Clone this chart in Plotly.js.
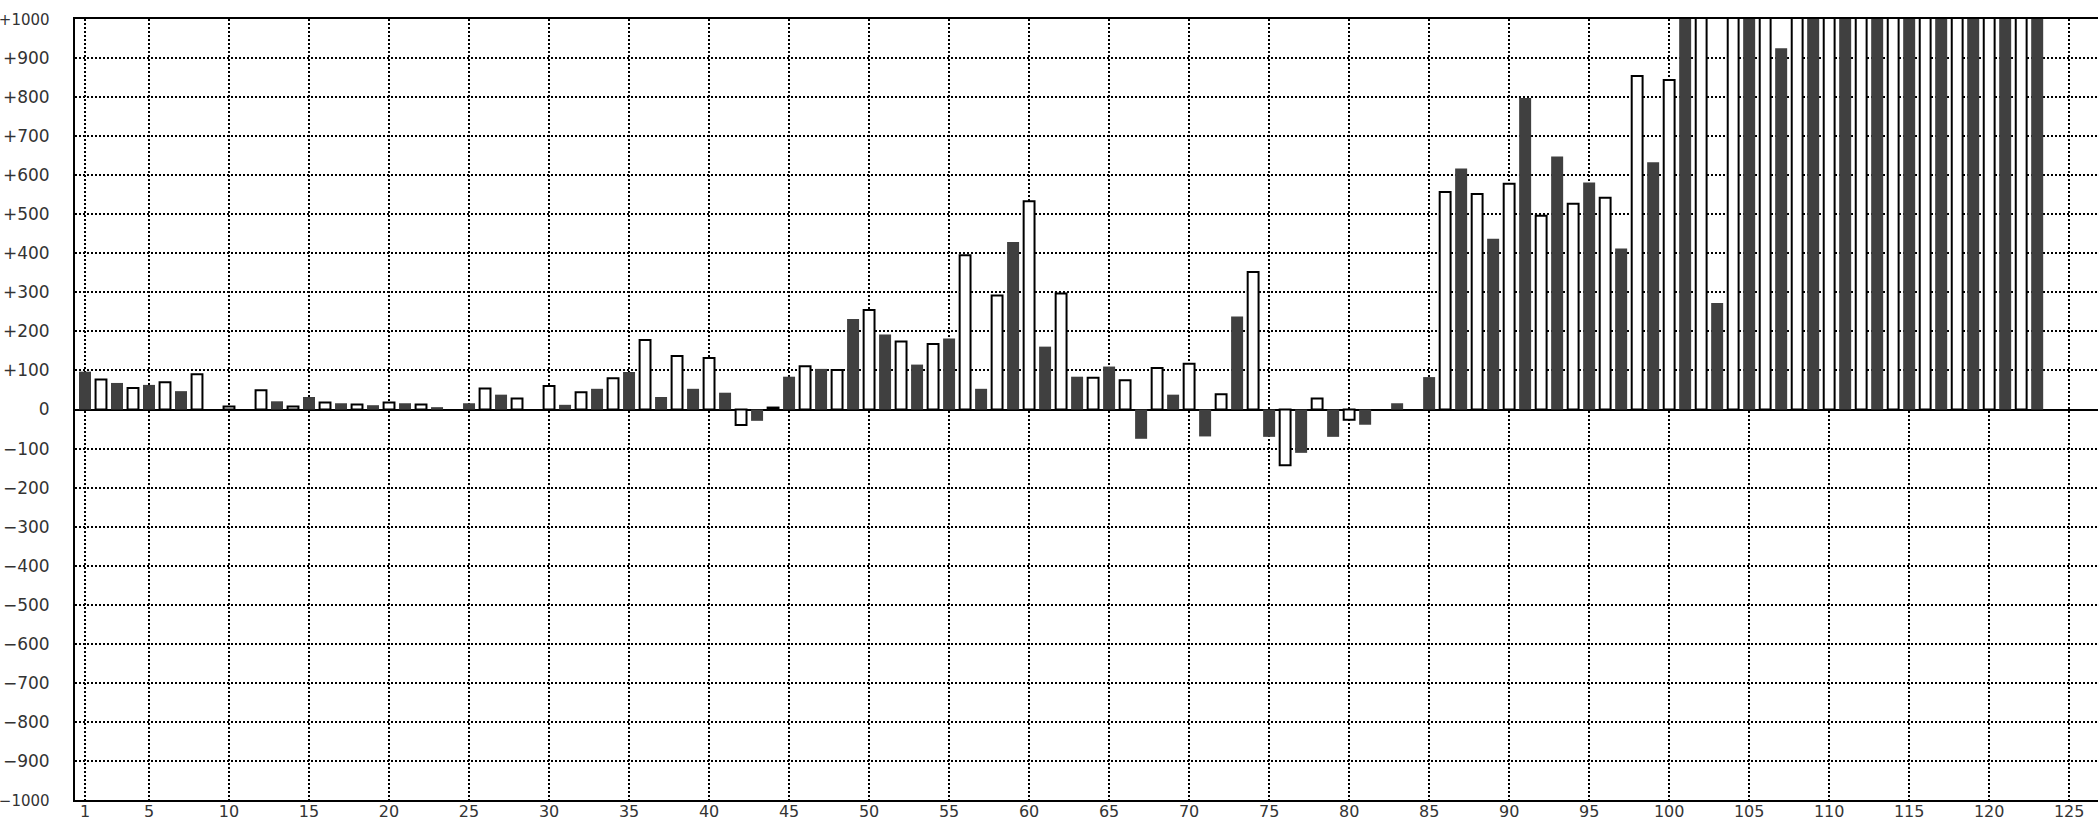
<!DOCTYPE html>
<html>
<head>
<meta charset="utf-8">
<script src="https://cdn.plot.ly/plotly-3.0.1.min.js"></script>
<style>html,body{margin:0;padding:0;background:#fff;}#chart{width:2098px;height:820px;}</style>
</head>
<body>
<div id="chart"></div>
<script>
// Dark (filled) series at odd positions
const darkX = [1,3,5,7,9,11,13,15,17,19,21,23,25,27,29,31,33,35,37,39,41,43,45,47,49,51,53,55,57,59,61,63,65,67,69,71,73,75,77,79,81,83,85,87,89,91,93,95,97,99,101,103,105,107,109,111,113,115,117,119,121,123];
const darkY = [97,68,63,47,null,null,21,32,16,11,16,6,16,38,null,12,53,96,32,53,43,-29,84,104,232,192,115,182,53,429,161,84,110,-75,38,-69,238,-70,-111,-70,-39,16,83,617,437,798,648,581,412,633,1200,273,1200,925,1200,1200,1200,1200,1200,1200,1200,1200];
// White (outlined) series at even positions
const whiteX = [2,4,6,8,10,12,14,16,18,20,22,24,26,28,30,32,34,36,38,40,42,44,46,48,50,52,54,56,58,60,62,64,66,68,70,72,74,76,78,80,82,84,86,88,90,92,94,96,98,100,102,104,106,108,110,112,114,116,118,120,122];
const whiteY = [77,55,70,90,8,49,8,18,13,18,13,null,54,28,60,44,80,178,137,132,-40,5,111,101,255,174,168,395,292,533,297,81,75,106,117,39,352,-143,28,-26,null,null,557,552,578,496,527,542,854,844,1200,1200,1200,1200,1200,1200,1200,1200,1200,1200,1200];

const xTicks = [1,5,10,15,20,25,30,35,40,45,50,55,60,65,70,75,80,85,90,95,100,105,110,115,120,125];
const yTicks = [-1000,-900,-800,-700,-600,-500,-400,-300,-200,-100,0,100,200,300,400,500,600,700,800,900,1000];
const yTickText = ['<span style="font-size:15px">\u22121000</span>','\u2212900','\u2212800','\u2212700','\u2212600','\u2212500','\u2212400','\u2212300','\u2212200','\u2212100','0','+100','+200','+300','+400','+500','+600','+700','+800','+900','<span style="font-size:15px">+1000</span>'];

const traces = [
  {type:'bar', x: darkX, y: darkY, width: 0.75,
   marker:{color:'#404040', line:{width:0}}, hoverinfo:'x+y'},
  {type:'bar', x: whiteX, y: whiteY, width: 0.68,
   marker:{color:'#ffffff', line:{color:'#000000', width:2}}, hoverinfo:'x+y'}
];

const font = {family:'DejaVu Sans, sans-serif', size:17, color:'#333333'};
const xfont = {family:'DejaVu Sans, sans-serif', size:16, color:'#333333'};
const layout = {
  width: 2098, height: 820,
  margin: {l:75, r:0, t:19, b:20, pad:0},
  paper_bgcolor:'#ffffff', plot_bgcolor:'#ffffff',
  showlegend:false, barmode:'overlay',
  font: font,
  xaxis: {
    range:[0.375, 126.8], tickmode:'array', tickvals:xTicks, ticktext:xTicks.map(String),
    showgrid:true, gridcolor:'#000000', gridwidth:2, griddash:'2px,2px',
    showline:true, linecolor:'#000000', linewidth:2, mirror:true,
    ticks:'', zeroline:false, tickfont:xfont, ticklabelstandoff:-4, automargin:false, fixedrange:true
  },
  yaxis: {
    range:[-1000, 1000], tickmode:'array', tickvals:yTicks, ticktext:yTickText,
    showgrid:true, gridcolor:'#000000', gridwidth:2, griddash:'2px,2px',
    showline:true, linecolor:'#000000', linewidth:2, mirror:false,
    zeroline:true, zerolinecolor:'#000000', zerolinewidth:2,
    ticks:'', ticklabelstandoff:20, tickfont:font, automargin:false, fixedrange:true
  }
};
Plotly.newPlot('chart', traces, layout, {displayModeBar:false, staticPlot:true});
</script>
</body>
</html>
